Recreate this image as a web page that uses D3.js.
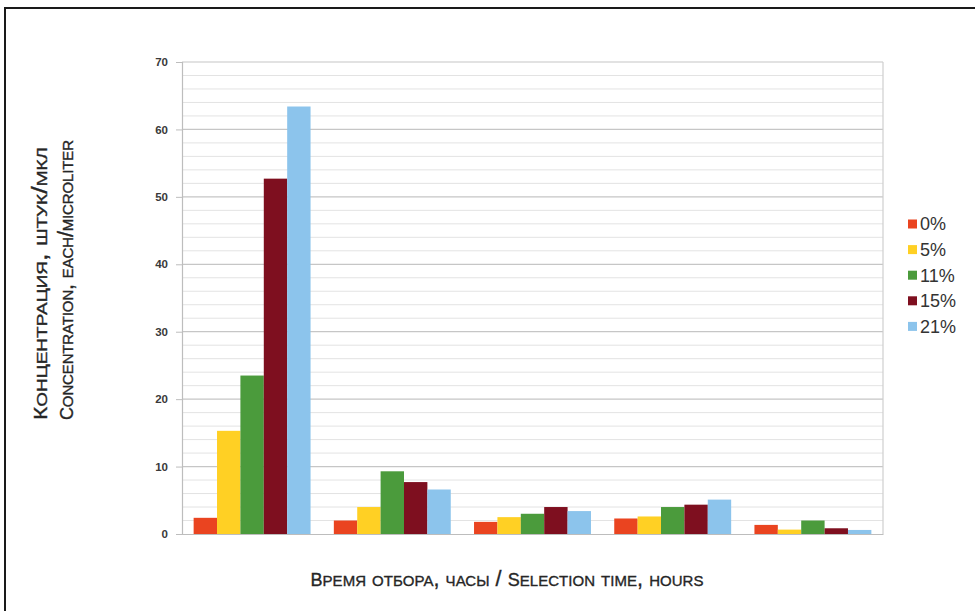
<!DOCTYPE html>
<html>
<head>
<meta charset="utf-8">
<script src="https://cdn.jsdelivr.net/npm/d3@7/dist/d3.min.js"></script>
<style>
  html, body { margin: 0; padding: 0; background: #fff; }
  svg { display: block; }
</style>
</head>
<body>
<svg id="chart" width="975" height="611"></svg>
<script>
// Sampling points (one cluster of bars each)
const categories = ["1", "2", "3", "4", "5"];
// Series: concentration level
const seriesNames = ["0%", "5%", "11%", "15%", "21%"];
const seriesColors = ["#ea4420", "#ffd024", "#4b9b3c", "#7e0f1f", "#8cc4ec"];
// Concentration, pieces per microliter
const values0  = [2.4, 2.0, 1.8, 2.3, 1.35];
const values5  = [15.3, 4.0, 2.5, 2.6, 0.65];
const values11 = [23.5, 9.3, 3.0, 4.0, 2.0];
const values15 = [52.7, 7.7, 4.0, 4.35, 0.85];
const values21 = [63.4, 6.6, 3.4, 5.1, 0.6];
const yTicks = [0, 10, 20, 30, 40, 50, 60, 70];
const yMinorTicks = d3.range(0, 70.001, 2);
const yTitleLines = ["Концентрация, штук/мкл", "Concentration, each/microliter"];
const xTitle = "Время отбора, часы / Selection time, hours";

const seriesValues = [values0, values5, values11, values15, values21];
const table = categories.map((c, i) => {
  const row = { category: c };
  seriesNames.forEach((s, j) => { row[s] = seriesValues[j][i]; });
  return row;
});

const svg = d3.select("#chart");
const plot = { left: 182, right: 883, top: 62, bottom: 534 };
const titleFont = "'Liberation Sans', Arial, sans-serif";

// Small-caps text: capitals at full size, lower-case letters drawn as
// smaller capitals (browser synthesises small caps at 70% size, so the
// lower-case runs get a larger font size to reach the wanted ratio).
function smallCaps(textSel, str, capSize, ratio) {
  const runs = str.match(/(\p{Lu}+|[^\p{Lu}]+)/gu);
  textSel.selectAll("tspan").data(runs).join("tspan")
    .style("font-size", d => /\p{Lu}/u.test(d) ? capSize + "px" : (capSize * ratio / 0.7) + "px")
    .style("font-variant", d => /\p{Lu}/u.test(d) ? "normal" : "small-caps")
    .text(d => d);
}

// outer frame
svg.append("rect")
  .attr("x", 5).attr("y", 8).attr("width", 1000).attr("height", 700)
  .attr("fill", "#fff").attr("stroke", "#1a1a1a").attr("stroke-width", 2);

const x0 = d3.scaleBand().domain(categories)
  .range([plot.left, plot.right]).paddingInner(0.166).paddingOuter(0.083);
const x1 = d3.scaleBand().domain(seriesNames).range([0, x0.bandwidth()]);
const y = d3.scaleLinear().domain([0, 70]).range([plot.bottom, plot.top]);
const color = d3.scaleOrdinal().domain(seriesNames).range(seriesColors);

// minor gridlines
svg.append("g").selectAll("line").data(yMinorTicks.filter(v => v % 10 !== 0)).join("line")
  .attr("x1", plot.left).attr("x2", plot.right)
  .attr("y1", d => y(d)).attr("y2", d => y(d))
  .attr("stroke", "#e3e3e3").attr("stroke-width", 1);

// major gridlines
svg.append("g").selectAll("line").data(yTicks.filter(v => v > 0)).join("line")
  .attr("x1", plot.left).attr("x2", plot.right)
  .attr("y1", d => y(d)).attr("y2", d => y(d))
  .attr("stroke", "#c6c6c6").attr("stroke-width", 1.2);

// right border of plot area
svg.append("line")
  .attr("x1", plot.right).attr("x2", plot.right)
  .attr("y1", plot.top).attr("y2", plot.bottom)
  .attr("stroke", "#cfcfcf").attr("stroke-width", 1.2);

// y axis
const yAxis = svg.append("g")
  .attr("transform", `translate(${plot.left},0)`)
  .call(d3.axisLeft(y).tickValues(yTicks).tickSize(6).tickPadding(8));
yAxis.select(".domain").attr("stroke", "#bdbdbd").attr("stroke-width", 1.2);
yAxis.selectAll(".tick line").attr("stroke", "#bdbdbd");
yAxis.selectAll(".tick text")
  .attr("fill", "#3a3a3a")
  .style("font-family", "'Liberation Sans', Arial, sans-serif")
  .style("font-size", "11.5px").style("font-weight", "bold");

// x axis (no category labels)
const xAxis = svg.append("g")
  .attr("transform", `translate(0,${plot.bottom})`)
  .call(d3.axisBottom(x0).tickFormat("").tickSize(0));
xAxis.select(".domain").attr("stroke", "#bdbdbd").attr("stroke-width", 1.2);

// bars
svg.append("g").selectAll("g").data(table).join("g")
  .attr("transform", d => `translate(${x0(d.category)},0)`)
  .selectAll("rect")
  .data(d => seriesNames.map(s => ({ key: s, value: d[s] })))
  .join("rect")
  .attr("x", d => x1(d.key))
  .attr("width", x1.bandwidth())
  .attr("y", d => y(d.value))
  .attr("height", d => y(0) - y(d.value))
  .attr("fill", d => color(d.key));

// y axis title (two lines, rotated)
const yTitleSpan = [[147, 420], [140, 420]];
const yTitleAdjust = ["spacingAndGlyphs", "spacing"];
yTitleLines.forEach((line, i) => {
  const [top, bottom] = yTitleSpan[i];
  const t = svg.append("text")
    .attr("transform", `translate(${47 + i * 26},${(top + bottom) / 2}) rotate(-90)`)
    .attr("text-anchor", "middle")
    .attr("textLength", bottom - top)
    .attr("lengthAdjust", yTitleAdjust[i])
    .attr("fill", "#262626")
    .attr("stroke", "#262626").attr("stroke-width", 0.35)
    .style("font-family", titleFont);
  smallCaps(t, line, 18, 0.84);
});

// x axis title
const xt = svg.append("text")
  .attr("x", 507).attr("y", 586)
  .attr("text-anchor", "middle")
  .attr("textLength", 393)
  .attr("lengthAdjust", "spacing")
  .attr("fill", "#262626")
  .attr("stroke", "#262626").attr("stroke-width", 0.35)
  .style("font-family", titleFont);
smallCaps(xt, xTitle, 18, 0.84);

// legend
const legend = svg.append("g").selectAll("g").data(seriesNames).join("g")
  .attr("transform", (d, i) => `translate(908,${224 + i * 25.6})`);
legend.append("rect")
  .attr("x", 0).attr("y", -4.5).attr("width", 9).attr("height", 9)
  .attr("fill", d => color(d));
legend.append("text")
  .attr("x", 12).attr("y", 0).attr("dy", "0.36em")
  .attr("fill", "#333")
  .style("font-family", "'Liberation Sans', Arial, sans-serif")
  .style("font-size", "18px")
  .text(d => d);
</script>
</body>
</html>
